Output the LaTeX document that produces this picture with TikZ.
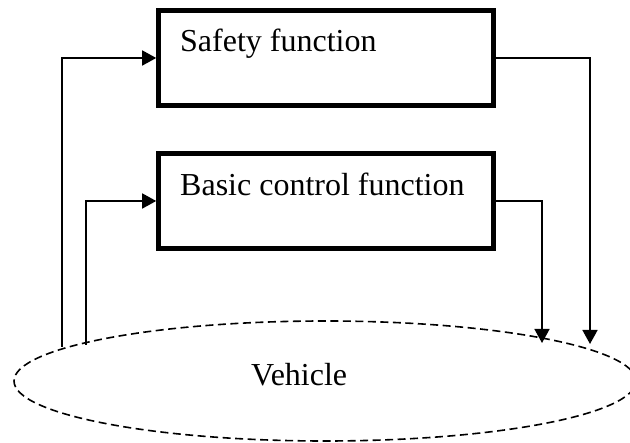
\documentclass[tikz,border=0pt]{standalone}
\usepackage{fontspec}
\setmainfont{Liberation Serif}
\usetikzlibrary{arrows.meta,shapes.geometric}
\begin{document}
\begin{tikzpicture}[x=1pt,y=-1pt,
  fnbox/.style={draw,line width=4.6pt,minimum width=335pt,minimum height=95pt,inner sep=0pt},
  lbl/.style={anchor=base west,inner sep=0pt,font=\fontsize{32}{38}\selectfont},
  arr/.style={line width=1.6pt,-{Triangle[length=14pt,width=15pt]}},
  vehshape/.style={draw,ellipse,line width=1.6pt,dash pattern=on 8pt off 4.5pt,minimum width=622pt,minimum height=120pt,inner sep=0pt}]
\useasboundingbox (0,0) rectangle (630,443);
\node[fnbox] (sf) at (326,58) {};
\node[fnbox] (bc) at (326,201) {};
\node[lbl] (sft) at (180,52) {Safety function};
\node[lbl] (bct) at (180,196) {Basic control function};
\node[vehshape] (veh) at (325,381) {};
\node[lbl] (veht) at (251,386) {Vehicle};
\coordinate (si) at (62,347);
\coordinate (bi) at (86,345);
\coordinate (so) at (590,344);
\coordinate (bo) at (542,343);
\draw[arr] (si) |- (sf.west);
\draw[arr] (bi) |- (bc.west);
\draw[arr] (sf.east) -| (so);
\draw[arr] (bc.east) -| (bo);
\end{tikzpicture}
\end{document}
